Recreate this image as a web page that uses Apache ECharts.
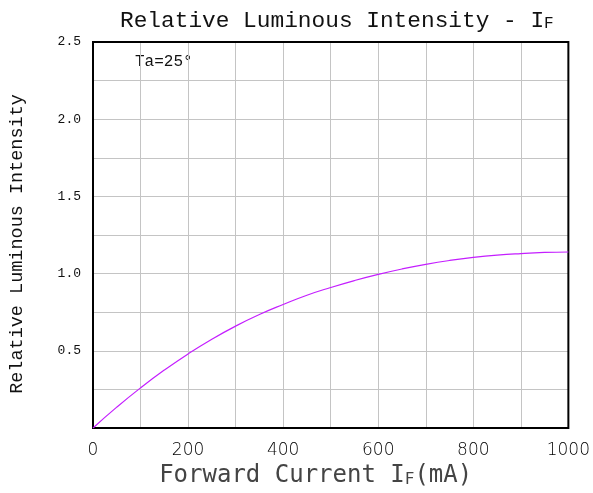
<!DOCTYPE html>
<html><head><meta charset="utf-8">
<script src="https://cdn.jsdelivr.net/npm/echarts@6/dist/echarts.min.js"></script>
<style>html,body{margin:0;padding:0;background:#fff;overflow:hidden}#c{width:593px;height:493px}</style>
</head><body><div id="c"></div>
<script>
var currents = [0,50,100,150,200,250,300,350,400,450,500,550,600,650,700,750,800,850,900,950,1000];
var intensity = [0,0.135,0.26,0.375,0.48,0.575,0.66,0.735,0.80,0.86,0.91,0.955,0.995,1.03,1.06,1.085,1.105,1.12,1.13,1.137,1.14];
var xLabels = [0,200,400,600,800,1000];
var yLabels = [0.5,1.0,1.5,2.0,2.5];
var titleText = 'Relative Luminous Intensity - I';
var note = 'Ta=25°';

var chart = echarts.init(document.getElementById('c'));
chart.setOption({
  animation:false,
  title:{text:'{a|'+titleText+'}{b|F}', left:115, top:4,
    textStyle:{fontWeight:'normal',rich:{
      a:{fontFamily:'Liberation Mono',fontWeight:'normal',fontSize:22.8,color:'#111'},
      b:{fontFamily:'Liberation Mono',fontWeight:'normal',fontSize:16,color:'#111',verticalAlign:'bottom'}}}},
  grid:{left:93,right:20,top:42,bottom:59,show:true,borderColor:'#000',borderWidth:2,containLabel:false,z:3},
  xAxis:{type:'value',min:0,max:1000,interval:100,
    name:'Forward Current I{s|F}(mA)',
    nameLocation:'middle',nameGap:36,
    nameTextStyle:{fontFamily:'DejaVu Sans Mono',fontSize:24,color:'#444',padding:[0,30,0,0],
      rich:{s:{fontFamily:'DejaVu Sans Mono',fontSize:16,color:'#444',verticalAlign:'bottom'}}},
    axisLine:{show:false},axisTick:{show:false},
    splitLine:{show:true,showMinLine:false,showMaxLine:false,lineStyle:{color:'#c4c4c4',width:1}},
    axisLabel:{margin:14,fontFamily:'DejaVu Sans',fontWeight:200,fontSize:17,color:'#000',
      formatter:function(v){return xLabels.indexOf(v)>=0?String(v):'';}}},
  yAxis:{type:'value',min:0,max:2.5,interval:0.25,
    name:'Relative Luminous Intensity',nameLocation:'middle',nameGap:66,nameRotate:90,
    nameTextStyle:{fontFamily:'Liberation Mono',fontSize:18.5,color:'#111',padding:[0,18,0,0]},
    axisLine:{show:false},axisTick:{show:false},
    splitLine:{show:true,showMinLine:false,showMaxLine:false,lineStyle:{color:'#c4c4c4',width:1}},
    axisLabel:{margin:12,fontFamily:'Liberation Mono',fontSize:13,color:'#111',
      formatter:function(v){for(var i=0;i<yLabels.length;i++){if(Math.abs(yLabels[i]-v)<1e-6)return v.toFixed(1);}return '';}}},
  graphic:[{type:'text',left:135,top:54,style:{text:note,font:'16px "Liberation Mono"',fill:'#111'}}],
  series:[{type:'line',smooth:true,showSymbol:false,
    data:currents.map(function(c,i){return [c,intensity[i]];}),
    lineStyle:{color:'#c41eff',width:1.2}}]
});
</script></body></html>
